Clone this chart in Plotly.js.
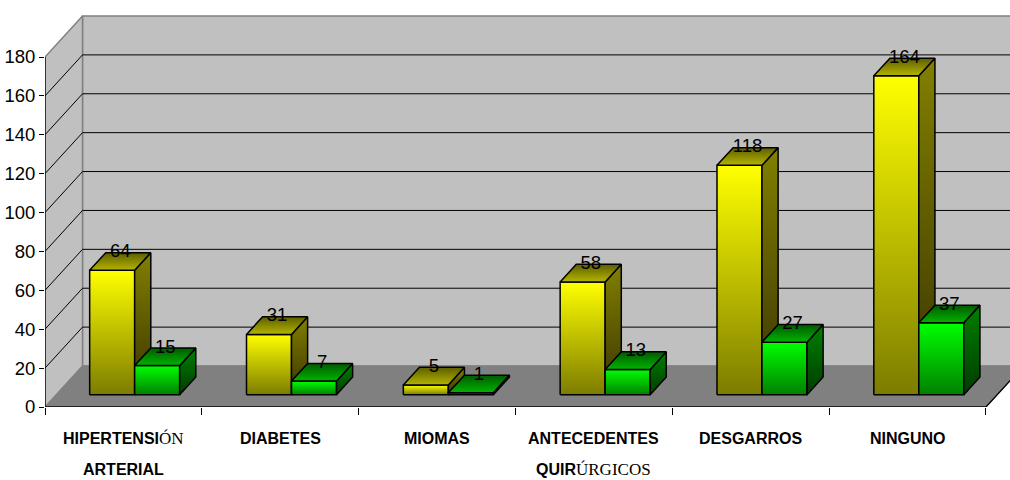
<!DOCTYPE html>
<html>
<head>
<meta charset="utf-8">
<script src="https://cdn.plot.ly/plotly-3.0.1.min.js"></script>
<style>
  html, body { margin: 0; padding: 0; background: #fff; }
  #chart { width: 1010px; height: 480px; }
</style>
</head>
<body>
<div id="chart"></div>
<script>
// ---- data ----
const SERIF = '<span style="font-family:Liberation Serif;font-weight:normal;font-size:17px">';
const categoryLine1 = ['HIPERTENSI' + SERIF + 'ÓN</span>', 'DIABETES', 'MIOMAS', 'ANTECEDENTES', 'DESGARROS', 'NINGUNO'];
const categoryLine2 = ['ARTERIAL', '', '', 'QUIR' + SERIF + 'ÚRGICOS</span>', '', ''];
const yellowValues = [64, 31, 5, 58, 118, 164];
const greenValues = [15, 7, 1, 13, 27, 37];
const yTicks = [0, 20, 40, 60, 80, 100, 120, 140, 160, 180];
const yTop = 180;

// ---- geometry of the pseudo-3D frame (px -> axis units) ----
const ML = 45, MB = 73, PLOT_W = 1010 - ML, PLOT_H = 480 - MB;
const CAT_PX = 156.83;          // one category slot in px
const UNIT_PX = 1.9444;         // one value unit in px
const xMax = -0.5 + PLOT_W / CAT_PX;
const yMax = PLOT_H / UNIT_PX;
const DX = 37.5 / CAT_PX;       // full floor depth, x units
const DY = 41 / UNIT_PX;        // full floor depth, y units
const D0 = 0.30;                // depth where the bar fronts sit
const BD = 0.43;                // bar depth as a share of floor depth
const BAR_W = 45 / CAT_PX;
const nCat = yellowValues.length;
const xLeft = -0.5, xRight = nCat - 0.5;

const SANS = 'Liberation Sans, Arial, sans-serif';
const traces = [];

function poly(xs, ys, fill, scale, lineColor, lineWidth) {
  const t = {
    type: 'scatter', mode: 'lines', x: xs, y: ys, fill: 'toself',
    fillcolor: fill, line: { color: lineColor, width: lineWidth },
    hoverinfo: 'skip', showlegend: false
  };
  if (scale) t.fillgradient = { type: 'vertical', colorscale: scale };
  traces.push(t);
}
function line(xs, ys, color, width) {
  traces.push({
    type: 'scatter', mode: 'lines', x: xs, y: ys,
    line: { color: color, width: width }, hoverinfo: 'skip', showlegend: false
  });
}

// walls and floor
const bx = xLeft + DX, by = DY;
poly([bx, xMax + 1, xMax + 1, bx, bx], [by, by, yTop + by, yTop + by, by], '#c0c0c0', null, '#808080', 1.5);
poly([xLeft, bx, bx, xLeft, xLeft], [0, by, yTop + by, yTop, 0], '#c0c0c0', null, '#808080', 1.5);
poly([xLeft, xRight, xRight + DX, bx, xLeft], [0, 0, by, by, 0], '#808080', null, '#808080', 1);

// gridlines on the left wall and the back wall
const gx = [], gy = [];
yTicks.filter(v => v > 0 && v < yTop).forEach(v => {
  gx.push(xLeft, bx, xMax + 1, null);
  gy.push(v, v + by, v + by, null);
});
line(gx, gy, '#000', 1);

// front edge of the floor, its right side, and the value axis
line([xLeft, xRight, xRight + DX], [0, 0, by], '#000', 1.3);
line([xLeft, xLeft], [0, yTop], '#000', 1.3);

// ---- bars ----
const yellowScales = {
  front: [[0, '#7c7c00'], [1, '#ffff00']],
  side: [[0, '#3a3400'], [1, '#828000']],
  top: [[0, '#b4b400'], [1, '#5e5e00']]
};
const greenScales = {
  front: [[0, '#008000'], [1, '#00ff00']],
  side: [[0, '#003c00'], [1, '#008000']],
  top: [[0, '#00b400'], [1, '#005a00']]
};
const ox = D0 * DX, oy = D0 * DY, bdx = BD * DX, bdy = BD * DY;

function bar(x0, value, sc) {
  const x1 = x0 + BAR_W, yb = oy, yt = oy + value;
  poly([x0, x1, x1, x0, x0], [yb, yb, yt, yt, yb], '#ffffff', sc.front, '#000', 1.5);
  poly([x1, x1 + bdx, x1 + bdx, x1, x1], [yb, yb + bdy, yt + bdy, yt, yb], '#ffffff', sc.side, '#000', 1.5);
  poly([x0, x1, x1 + bdx, x0 + bdx, x0], [yt, yt, yt + bdy, yt + bdy, yt], '#ffffff', sc.top, '#000', 1.5);
}

const labelX = [], labelY = [], labelText = [];
for (let i = 0; i < nCat; i++) {
  const yx = i - BAR_W + ox, gxs = i + ox;
  bar(yx, yellowValues[i], yellowScales);
  bar(gxs, greenValues[i], greenScales);
  labelX.push(yx + BAR_W / 2 + bdx / 2, gxs + BAR_W / 2 + bdx / 2);
  labelY.push(yellowValues[i] + oy + bdy, greenValues[i] + oy + bdy);
  labelText.push(String(yellowValues[i]), String(greenValues[i]));
}
traces.push({
  type: 'scatter', mode: 'text', x: labelX, y: labelY, text: labelText,
  textposition: 'middle center', textfont: { family: SANS, size: 18.5, color: '#000' },
  hoverinfo: 'skip', showlegend: false, cliponaxis: false
});

// ---- category labels ----
const annotations = [];
for (let i = 0; i < nCat; i++) {
  [categoryLine1[i], categoryLine2[i]].forEach((txt, k) => {
    if (!txt) return;
    annotations.push({
      x: i, xref: 'x', y: 0, yref: 'paper', yanchor: 'middle', xanchor: 'center',
      yshift: k === 0 ? -31 : -62, showarrow: false, text: txt,
      font: { family: SANS, size: 16, color: '#000', weight: 'bold' }
    });
  });
}

const boundaries = [];
for (let i = 0; i <= nCat; i++) boundaries.push(i - 0.5);

const layout = {
  width: 1010, height: 480,
  margin: { l: ML, r: 0, t: 0, b: MB, pad: 0 },
  paper_bgcolor: '#ffffff', plot_bgcolor: 'rgba(0,0,0,0)',
  showlegend: false,
  xaxis: {
    range: [xLeft, xMax], tickvals: boundaries, ticktext: boundaries.map(() => ''),
    ticks: 'outside', ticklen: 7, tickwidth: 1, tickcolor: '#000',
    showgrid: false, zeroline: false, showline: false, fixedrange: true
  },
  yaxis: {
    range: [0, yMax], tickvals: yTicks, ticktext: yTicks.map(String),
    ticks: 'outside', ticklen: 5, tickwidth: 1, tickcolor: '#000',
    tickfont: { family: SANS, size: 18.5, color: '#000' },
    showgrid: false, zeroline: false, showline: false, fixedrange: true
  },
  annotations: annotations
};

Plotly.newPlot('chart', traces, layout, { displayModeBar: false, staticPlot: true });
</script>
</body>
</html>
